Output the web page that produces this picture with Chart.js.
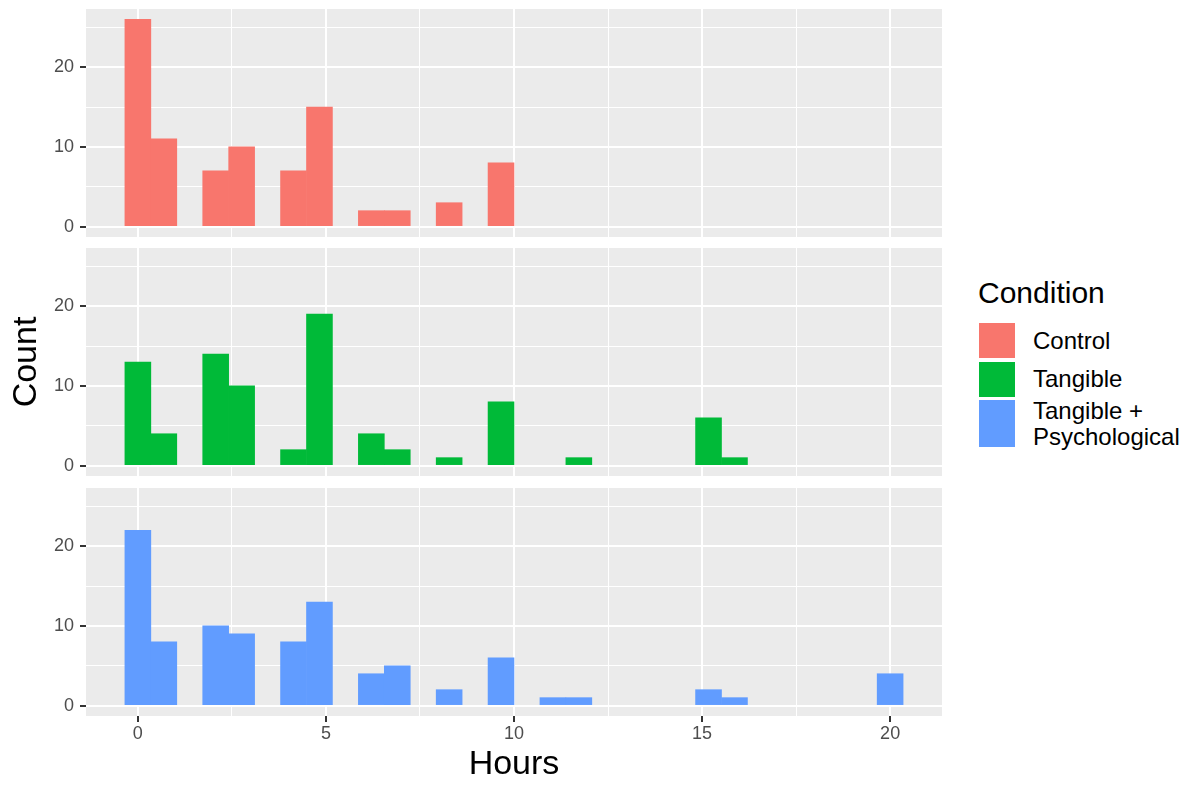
<!DOCTYPE html>
<html>
<head>
<meta charset="utf-8">
<title>Hours by condition</title>
<script src="https://cdn.jsdelivr.net/npm/chart.js@4.4.1/dist/chart.umd.min.js"></script>
<style>
  html, body { margin: 0; padding: 0; background: #fff; }
  body {
    width: 1194px; height: 785px; position: relative; overflow: hidden;
    font-family: "Liberation Sans", Arial, Helvetica, sans-serif;
  }
  canvas { position: absolute; left: 0; }
  #legendTitle {
    position: absolute; left: 978px; top: 278px;
    font-size: 30px; line-height: 30px; color: #000;
  }
  .legendRow { position: absolute; left: 979px; display: flex; align-items: center; }
  .legendKey { width: 36px; height: 100%; }
  .legendText {
    margin-left: 18px; font-size: 24px; line-height: 26px; color: #000;
    white-space: pre-line;
  }
</style>
</head>
<body>
<canvas id="panelControl" width="960" height="240" style="top:0px"></canvas>
<canvas id="panelTangible" width="960" height="240" style="top:239px"></canvas>
<canvas id="panelBoth" width="960" height="306" style="top:479px"></canvas>
<div id="legendTitle">Condition</div>
<div id="legend"></div>

<script>
// histogram bin centres (hours), 30 bins
const binCenters = [0, 0.690, 1.379, 2.069, 2.759, 3.448, 4.138, 4.828, 5.517, 6.207,
  6.897, 7.586, 8.276, 8.966, 9.655, 10.345, 11.034, 11.724, 12.414, 13.103,
  13.793, 14.483, 15.172, 15.862, 16.552, 17.241, 17.931, 18.621, 19.310, 20.000];

// counts per bin
const controlCounts  = [26, 11, 0, 7, 10, 0, 7, 15, 0, 2, 2, 0, 3, 0, 8, 0, 0, 0, 0, 0, 0, 0, 0, 0, 0, 0, 0, 0, 0, 0];
const tangibleCounts = [13, 4, 0, 14, 10, 0, 2, 19, 0, 4, 2, 0, 1, 0, 8, 0, 0, 1, 0, 0, 0, 0, 6, 1, 0, 0, 0, 0, 0, 0];
const bothCounts     = [22, 8, 0, 10, 9, 0, 8, 13, 0, 4, 5, 0, 2, 0, 6, 0, 1, 1, 0, 0, 0, 0, 2, 1, 0, 0, 0, 0, 0, 4];

const conditions = ["Control", "Tangible", "Tangible + Psychological"];
const legendLabels = ["Control", "Tangible", "Tangible +\nPsychological"];
const xTicks = [0, 5, 10, 15, 20];
const yTicks = [0, 10, 20];

const colors = ["#F8766D", "#00BA38", "#619CFF"];

// ggplot style axis limits (5% expansion)
const xMin = -1.379, xMax = 21.379;
const yMin = -1.3, yMax = 27.3;

Chart.defaults.font.family = '"Liberation Sans", Arial, sans-serif';

const panelBackground = {
  id: "panelBackground",
  beforeDraw(chart) {
    const a = chart.chartArea;
    const ctx = chart.ctx;
    ctx.save();
    ctx.fillStyle = "#EBEBEB";
    ctx.fillRect(a.left, a.top, a.right - a.left, a.bottom - a.top);
    ctx.restore();
  }
};

function isMajor(list, ctx) {
  return ctx.tick && list.includes(ctx.tick.value);
}

function makePanel(id, idx, counts, opt) {
  return new Chart(document.getElementById(id), {
    type: "bar",
    data: {
      datasets: [{
        label: conditions[idx],
        // empty bins are skipped so no hairline is drawn at zero
        data: binCenters.map((x, i) => ({ x: x, y: counts[i] > 0 ? counts[i] : null })),
        backgroundColor: colors[idx],
        borderWidth: 0,
        barPercentage: 1,
        categoryPercentage: 1
      }]
    },
    options: {
      responsive: false,
      animation: false,
      devicePixelRatio: 1,
      layout: { padding: { top: 9, right: 18, bottom: opt.bottom ? 0 : 3, left: 0 } },
      plugins: { legend: { display: false }, tooltip: { enabled: false } },
      scales: {
        x: {
          type: "linear",
          min: xMin,
          max: xMax,
          offset: false,
          border: { display: false },
          grid: {
            offset: false,
            color: "#FFFFFF",
            lineWidth: ctx => isMajor(xTicks, ctx) ? 2 : 1,
            drawTicks: opt.bottom,
            tickLength: 6,
            tickWidth: 2,
            tickColor: ctx => isMajor(xTicks, ctx) ? "#333333" : "rgba(0,0,0,0)"
          },
          ticks: {
            display: opt.bottom,
            stepSize: 2.5,
            includeBounds: false,
            autoSkip: false,
            maxRotation: 0,
            padding: 1,
            color: "#4D4D4D",
            font: { size: 18 },
            callback: v => xTicks.includes(v) ? String(v) : ""
          },
          title: {
            display: opt.bottom,
            text: "Hours",
            color: "#000000",
            font: { size: 34 },
            padding: { top: 0, bottom: 0 }
          },
          afterFit(s) {
            s.height = opt.bottom ? 69 : 0;
            s.paddingLeft = 0;
            s.paddingRight = 0;
          }
        },
        y: {
          min: yMin,
          max: yMax,
          border: { display: false },
          grid: {
            color: "#FFFFFF",
            lineWidth: ctx => isMajor(yTicks, ctx) ? 2 : 1,
            tickLength: 6,
            tickWidth: 2,
            tickColor: ctx => isMajor(yTicks, ctx) ? "#333333" : "rgba(0,0,0,0)"
          },
          ticks: {
            stepSize: 5,
            includeBounds: false,
            autoSkip: false,
            padding: 6,
            color: "#4D4D4D",
            font: { size: 18 },
            callback: v => yTicks.includes(v) ? String(v) : ""
          },
          title: {
            display: opt.yTitle,
            text: "Count",
            color: "#000000",
            font: { size: 34 },
            padding: { top: 6, bottom: 0 }
          },
          afterFit(s) {
            s.width = 86;
            s.paddingTop = 0;
            s.paddingBottom = 0;
          }
        }
      }
    },
    plugins: [panelBackground]
  });
}

makePanel("panelControl", 0, controlCounts, { bottom: false, yTitle: false });
makePanel("panelTangible", 1, tangibleCounts, { bottom: false, yTitle: true });
makePanel("panelBoth", 2, bothCounts, { bottom: true, yTitle: false });

// legend
const legend = document.getElementById("legend");
let rowTop = 323;
legendLabels.forEach((label, i) => {
  const lines = label.split("\n").length;
  const h = lines > 1 ? 47 : 35;
  const row = document.createElement("div");
  row.className = "legendRow";
  row.style.top = rowTop + "px";
  row.style.height = h + "px";
  const key = document.createElement("div");
  key.className = "legendKey";
  key.style.background = colors[i];
  const text = document.createElement("div");
  text.className = "legendText";
  text.textContent = label;
  row.appendChild(key);
  row.appendChild(text);
  legend.appendChild(row);
  rowTop += h + 3.5;
});
</script>
</body>
</html>
